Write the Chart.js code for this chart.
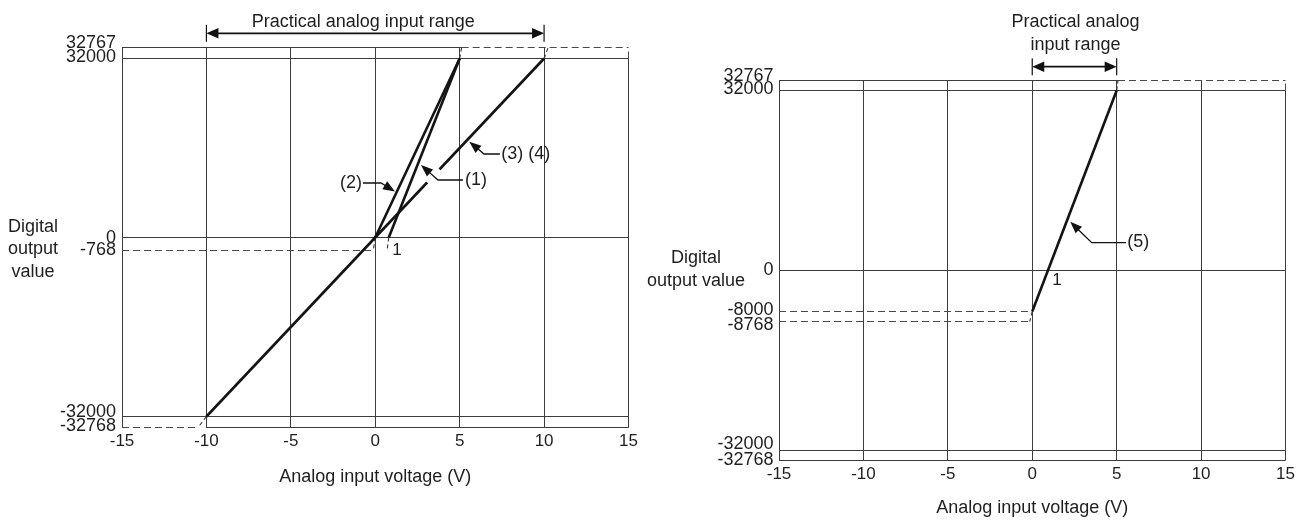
<!DOCTYPE html>
<html>
<head>
<meta charset="utf-8">
<script src="https://cdn.jsdelivr.net/npm/chart.js@4.4.1/dist/chart.umd.min.js"></script>
<style>
html, body { margin: 0; padding: 0; background: #fff; }
#wrap { position: relative; width: 1308px; height: 523px; overflow: hidden; background: #fff; }
canvas { position: absolute; top: 0; }
#c1 { left: 0; }
#c2 { left: 620px; }
</style>
</head>
<body>
<div id="wrap">
  <canvas id="c1" width="654" height="523"></canvas>
  <canvas id="c2" width="688" height="523"></canvas>
</div>
<script>
// ---------------- DATA ----------------
const xTickValues = [-15, -10, -5, 0, 5, 10, 15];
const leftYTicks  = [-32768, -32000, -768, 0, 32000, 32767];
const rightYTicks = [-32768, -32000, -8768, -8000, 0, 32000, 32767];

// Left chart characteristics (analog V -> digital value)
const line1V  = [0.8, 5];    const line1D  = [0, 32000];
const line2V  = [0, 5];      const line2D  = [0, 32000];
const line34V = [-10, 10];   const line34D = [-32000, 32000];
// dashed extensions up to the limit values
const ext1LowV  = [0.8, 0.7];     const ext1LowD  = [0, -768];
const ext2LowV  = [0, -0.12];     const ext2LowD  = [0, -768];
const ext2TopV  = [5, 5.12];      const ext2TopD  = [32000, 32767];
const ext34TopV = [10, 10.24];    const ext34TopD = [32000, 32767];
const ext34LowV = [-10, -10.5];   const ext34LowD = [-32000, -32768];
// left limit lines
const limLowV   = [-15, -0.12];   const limLowD   = [-768, -768];
const topSolidV = [-15, 5.12];    const topDashV  = [5.12, 15];   const topD = [32767, 32767];
const botDashV  = [-15, -10.5];   const botSolidV = [-10, 15];    const botD = [-32768, -32768];

// Right chart characteristic
const line5V   = [0, 5];          const line5D   = [-8000, 32000];
const ext5TopV = [5, 5.08];       const ext5TopD = [32000, 32767];
const ext5LowV = [0, -0.15];      const ext5LowD = [-8000, -8768];
const lim8000V = [-15, 0];        const lim8000D = [-8000, -8000];
const lim8768V = [-15, -0.15];    const lim8768D = [-8768, -8768];
const rTopSolidV = [-15, 5.08];   const rTopDashV = [5.08, 15];

// right-hand plot border (x = 15)
const edgeV = [15, 15];
const edgeSolidD = [-32768, 32000];
const edgeDashD  = [32000, 32767];

// ---------------- STYLE ----------------
const FONT = '"Liberation Sans", Arial, Helvetica, sans-serif';
const TEXT = '#1e1e1e';
const GRID = '#3c3c3c';
Chart.defaults.font.family = FONT;
Chart.defaults.color = TEXT;

const P = (xs, ys) => xs.map((v, i) => ({ x: v, y: ys[i] }));
const S_DATA = { borderColor: '#141414', borderWidth: 2.6, pointRadius: 0, clip: false, tension: 0, fill: false, borderCapStyle: 'butt' };
const S_EXT  = { borderColor: '#333', borderWidth: 1.1, borderDash: [4, 3], pointRadius: 0, clip: false, fill: false };
const S_DASH = { borderColor: '#4a4a4a', borderWidth: 1, borderDash: [7, 4], pointRadius: 0, clip: false, fill: false };
const S_EDGE = { borderColor: GRID, borderWidth: 1, pointRadius: 0, clip: false, fill: false };
const ds = (xs, ys, style) => Object.assign({ data: P(xs, ys) }, style);

// ------------- piecewise (schematic) value axis -------------
function makePiecewise(id, breaks, shifts) {
  const toDec = v => {
    let i = 0;
    while (i < breaks.length - 2 && v > breaks[i + 1][0]) i++;
    const [v0, d0] = breaks[i], [v1, d1] = breaks[i + 1];
    return d0 + (v - v0) * (d1 - d0) / (v1 - v0);
  };
  const fromDec = d => {
    let i = 0;
    while (i < breaks.length - 2 && d > breaks[i + 1][1]) i++;
    const [v0, d0] = breaks[i], [v1, d1] = breaks[i + 1];
    return v0 + (d - d0) * (v1 - v0) / (d1 - d0);
  };
  class PW extends Chart.LinearScale {
    getPixelForValue(v) {
      if (v === null || v === undefined || isNaN(v)) return NaN;
      return this.getPixelForDecimal(toDec(v));
    }
    getValueForPixel(p) { return fromDec(this.getDecimalForPixel(p)); }
    _computeLabelItems(area) {
      const items = super._computeLabelItems(area);
      items.forEach(it => {
        const s = shifts[String(it.label)];
        if (s) it.options.translation[1] += s;
      });
      return items;
    }
  }
  PW.id = id;
  PW.defaults = {};
  Chart.register(PW);
}
makePiecewise('pwLeft',
  [[-32768, 0], [-32000, 0.028947], [-768, 0.465789], [0, 0.5], [32000, 0.971053], [32767, 1]],
  { '32767': -4, '32000': -1, '0': 1, '-32000': -4.5, '-32768': -1 });
makePiecewise('pwRight',
  [[-32768, 0], [-32000, 0.026316], [-8768, 0.365789], [-8000, 0.392105], [0, 0.5], [32000, 0.973684], [32767, 1]],
  { '32767': -4.5, '32000': -1.5, '-8000': -1.5, '-8768': 4, '-32000': -6 });

// ------------- drawing helpers for annotations -------------
function head(ctx, tip, ux, uy, len, half) {
  const bx = tip.x - ux * len, by = tip.y - uy * len;
  ctx.beginPath();
  ctx.moveTo(tip.x, tip.y);
  ctx.lineTo(bx - uy * half, by + ux * half);
  ctx.lineTo(bx + uy * half, by - ux * half);
  ctx.closePath();
  ctx.fill();
}
function rangeArrow(ctx, x0, x1, y) {
  ctx.save();
  ctx.strokeStyle = '#111'; ctx.fillStyle = '#111';
  ctx.lineWidth = 1.2;
  [x0, x1].forEach(x => { ctx.beginPath(); ctx.moveTo(x, y - 8.5); ctx.lineTo(x, y + 8.5); ctx.stroke(); });
  ctx.lineWidth = 1.8;
  ctx.beginPath(); ctx.moveTo(x0 + 8, y); ctx.lineTo(x1 - 8, y); ctx.stroke();
  head(ctx, { x: x1, y }, 1, 0, 12, 5.2);
  head(ctx, { x: x0, y }, -1, 0, 12, 5.2);
  ctx.restore();
}
function callout(ctx, tip, elbowOff, endOff, knockout) {
  const elbow = { x: tip.x + elbowOff[0], y: tip.y + elbowOff[1] };
  const end = { x: tip.x + endOff[0], y: tip.y + endOff[1] };
  const dx = tip.x - elbow.x, dy = tip.y - elbow.y, L = Math.hypot(dx, dy);
  const ux = dx / L, uy = dy / L;
  ctx.save();
  if (knockout) {
    ctx.strokeStyle = '#fff'; ctx.lineWidth = 18; ctx.lineCap = 'butt';
    ctx.beginPath();
    ctx.moveTo(elbow.x + dx * 0.05, elbow.y + dy * 0.05);
    ctx.lineTo(elbow.x + dx * 0.55, elbow.y + dy * 0.55);
    ctx.stroke();
  }
  ctx.strokeStyle = '#111'; ctx.fillStyle = '#111'; ctx.lineWidth = 1.3;
  ctx.beginPath();
  ctx.moveTo(end.x, end.y); ctx.lineTo(elbow.x, elbow.y);
  ctx.lineTo(tip.x - ux * 10, tip.y - uy * 10);
  ctx.stroke();
  head(ctx, tip, ux, uy, 12, 4.6);
  ctx.restore();
}
function text(ctx, s, x, y, align, size, base) {
  ctx.save();
  ctx.fillStyle = TEXT;
  ctx.font = (size || 18) + 'px ' + FONT;
  ctx.textAlign = align || 'center';
  ctx.textBaseline = base || 'middle';
  ctx.fillText(s, x, y);
  ctx.restore();
}

// ------------- common options -------------
function opts(cfg) {
  return {
    responsive: false,
    animation: false,
    events: [],
    layout: { padding: cfg.padding },
    plugins: { legend: { display: false }, tooltip: { enabled: false } },
    scales: {
      x: {
        type: 'linear', min: -15, max: 15,
        afterBuildTicks: s => { s.ticks = xTickValues.map(v => ({ value: v })); },
        ticks: { autoSkip: false, maxRotation: 0, padding: 4, color: TEXT, font: { size: 17 }, callback: v => String(v) },
        grid: {
          drawTicks: false, lineWidth: 1,
          color: c => (c.tick && c.tick.value === 15) ? 'rgba(0,0,0,0)' : GRID
        },
        border: { display: false },
        title: { display: true, text: 'Analog input voltage (V)', color: TEXT, font: { size: 18 }, padding: { top: 0, bottom: cfg.titlePad } },
        afterFit: s => { s.height = cfg.xHeight; }
      },
      y: {
        type: cfg.yType, min: -32768, max: 32767,
        afterBuildTicks: s => { s.ticks = cfg.yTicks.map(v => ({ value: v })); },
        ticks: { autoSkip: false, padding: cfg.yPad, color: TEXT, font: { size: 18 }, callback: v => String(v) },
        grid: {
          drawTicks: false, lineWidth: 1,
          color: c => (c.tick && cfg.hiddenY.includes(c.tick.value)) ? 'rgba(0,0,0,0)' : GRID
        },
        border: { display: false },
        afterFit: s => { s.width = cfg.yWidth; }
      }
    }
  };
}

// ------------- LEFT CHART -------------
const leftDecor = {
  id: 'leftDecor',
  afterDatasetsDraw(chart) {
    const { ctx, scales: { x, y }, chartArea: ca } = chart;
    const X = v => x.getPixelForValue(v), Y = d => y.getPixelForValue(d);
    ['Digital', 'output', 'value'].forEach((t, i) => text(ctx, t, 33, 227 + i * 22.5));
    const ay = ca.top - 14.2;
    rangeArrow(ctx, X(-10), X(10), ay);
    text(ctx, 'Practical analog input range', (X(-10) + X(10)) / 2 - 12, ca.top - 21, 'center', 18, 'alphabetic');
    let tip = { x: X(1.17), y: Y(8224) };
    callout(ctx, tip, [-14, -8.5], [-32, -8.5]);
    text(ctx, '(2)', tip.x - 33, tip.y - 8.5, 'right');
    tip = { x: X(2.71), y: Y(12961) };
    callout(ctx, tip, [17, 15], [42, 15], true);
    text(ctx, '(1)', tip.x + 44, tip.y + 15, 'left');
    tip = { x: X(5.57), y: Y(17126) };
    callout(ctx, tip, [14.7, 12.3], [30.7, 12.3]);
    text(ctx, '(3) (4)', tip.x + 32, tip.y + 12.3, 'left');
    text(ctx, '1', X(1), Y(-768), 'left', 17);
  }
};

new Chart(document.getElementById('c1'), {
  type: 'line',
  data: {
    datasets: [
      ds(line1V, line1D, S_DATA),
      ds(line2V, line2D, S_DATA),
      ds(line34V, line34D, S_DATA),
      ds(ext1LowV, ext1LowD, S_EXT),
      ds(ext2LowV, ext2LowD, S_EXT),
      ds(ext2TopV, ext2TopD, S_EXT),
      ds(ext34TopV, ext34TopD, S_EXT),
      ds(ext34LowV, ext34LowD, S_EXT),
      ds(limLowV, limLowD, S_DASH),
      ds(topSolidV, topD, S_EDGE),
      ds(topDashV, topD, S_DASH),
      ds(botDashV, botD, S_DASH),
      ds(botSolidV, botD, S_EDGE),
      ds(edgeV, edgeSolidD, S_EDGE),
      ds(edgeV, edgeDashD, S_DASH)
    ]
  },
  options: opts({
    padding: { left: 0, top: 47.5, right: 25.5, bottom: 0 },
    yType: 'pwLeft', yTicks: leftYTicks, hiddenY: [32767, -768, -32768],
    yWidth: 122, yPad: 6, xHeight: 95.5, titlePad: 35.2
  }),
  plugins: [leftDecor]
});

// ------------- RIGHT CHART -------------
const rightDecor = {
  id: 'rightDecor',
  afterDatasetsDraw(chart) {
    const { ctx, scales: { x, y }, chartArea: ca } = chart;
    const X = v => x.getPixelForValue(v), Y = d => y.getPixelForValue(d);
    text(ctx, 'Digital', 76, 258);
    text(ctx, 'output value', 76, 281);
    const mid = (X(0) + X(5)) / 2 + 1;
    text(ctx, 'Practical analog', mid, 26.6, 'center', 18, 'alphabetic');
    text(ctx, 'input range', mid, 49.6, 'center', 18, 'alphabetic');
    rangeArrow(ctx, X(0), X(5), ca.top - 13.8);
    const tip = { x: X(2.25), y: Y(8676) };
    callout(ctx, tip, [21.5, 21], [55.7, 21]);
    text(ctx, '(5)', tip.x + 57, tip.y + 20, 'left');
    text(ctx, '1', X(1) + 3, Y(0) + 9.5, 'left', 17);
  }
};

new Chart(document.getElementById('c2'), {
  type: 'line',
  data: {
    datasets: [
      ds(line5V, line5D, S_DATA),
      ds(ext5TopV, ext5TopD, S_EXT),
      ds(ext5LowV, ext5LowD, S_EXT),
      ds(lim8000V, lim8000D, S_DASH),
      ds(lim8768V, lim8768D, S_DASH),
      ds(rTopSolidV, topD, S_EDGE),
      ds(rTopDashV, topD, S_DASH),
      ds(edgeV, edgeSolidD, S_EDGE),
      ds(edgeV, edgeDashD, S_DASH)
    ]
  },
  options: opts({
    padding: { left: 0, top: 80.5, right: 22.5, bottom: 0 },
    yType: 'pwRight', yTicks: rightYTicks, hiddenY: [32767, -8000, -8768],
    yWidth: 159, yPad: 5.5, xHeight: 62.5, titlePad: 3.7
  }),
  plugins: [rightDecor]
});
</script>
</body>
</html>
